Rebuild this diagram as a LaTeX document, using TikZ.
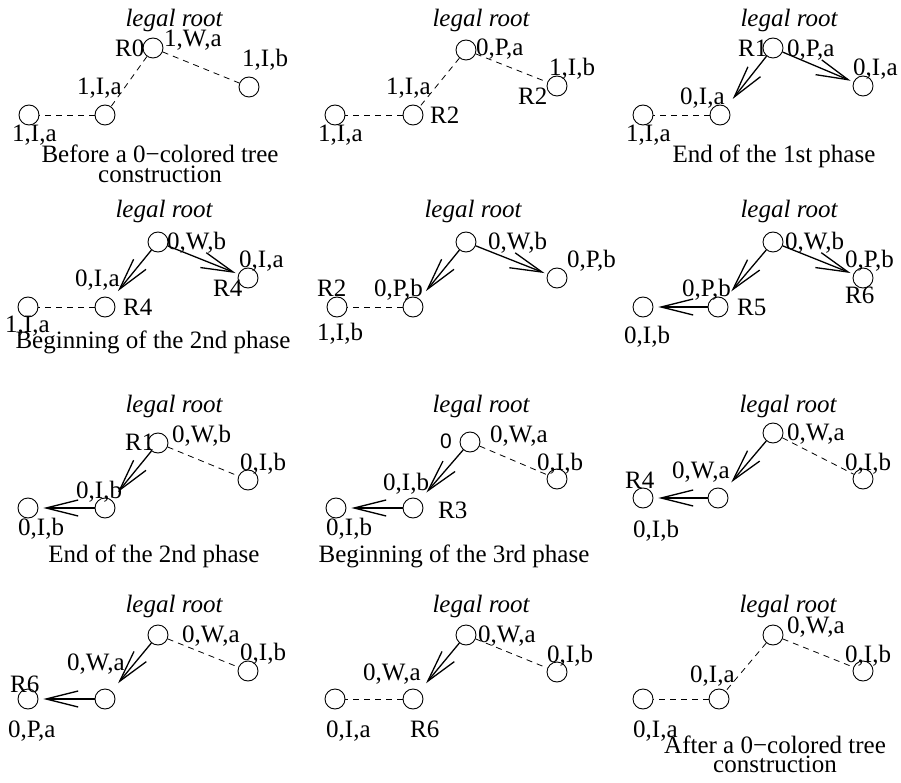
\documentclass[tikz,border=0pt]{standalone}
\usepackage{fontspec}
\setmainfont{Liberation Serif}
\newfontfamily\sfz{Liberation Sans}
\usetikzlibrary{arrows.meta}
\tikzset{
 vtx/.style={circle, draw, minimum size=20pt, inner sep=0pt, line width=0.9pt},
 lbl/.style={anchor=base west, inner sep=0pt},
 captxt/.style={anchor=base, inner sep=0pt},
 lr/.style={anchor=base, inner sep=0pt, font=\fontsize{25}{27}\selectfont\itshape},
 dsh/.style={dash pattern=on 6pt off 5pt, line width=0.8pt},
 arr/.style={line width=1.3pt, -{Straight Barb[length=32pt, width=16pt, line width=1.3pt]}},
 toM/.style={arr, shorten >=10pt},
 toS/.style={arr, shorten >=3pt},
 toL/.style={arr, shorten >=5pt},
}
\begin{document}
\begin{tikzpicture}[x=1pt, y=-1pt, every node/.append style={font=\fontsize{25}{27}\selectfont}]
\useasboundingbox (0,0) rectangle (901,783);
% ---- panel 1
\node[vtx] (aR) at (153,48) {};
\node[vtx] (aS) at (249,87) {};
\node[vtx] (aM) at (105,115) {};
\node[vtx] (aL) at (29,115) {};
\node[lr] (aT) at (174,27) {legal root};
\node[lbl] (a1) at (115,57) {R0};
\node[lbl] (a2) at (164,47) {1,W,a};
\node[lbl] (a3) at (242,67) {1,I,b};
\node[lbl] (a4) at (77,95) {1,I,a};
\node[lbl] (a5) at (12,142) {1,I,a};
\node[captxt] (a6) at (160,163) {Before a 0−colored tree};
\node[captxt] (a7) at (160,183) {construction};
\draw[dsh] (aR) -- (aM);
\draw[dsh] (aR) -- (aS);
\draw[dsh] (aM) -- (aL);
% ---- panel 2
\node[vtx] (bR) at (466,50) {};
\node[vtx] (bS) at (557,86) {};
\node[vtx] (bM) at (413,115) {};
\node[vtx] (bL) at (335,115) {};
\node[lr] (bT) at (481,27) {legal root};
\node[lbl] (b1) at (476,56) {0,P,a};
\node[lbl] (b2) at (549,76) {1,I,b};
\node[lbl] (b3) at (518,105) {R2};
\node[lbl] (b4) at (386,95) {1,I,a};
\node[lbl] (b5) at (430,124) {R2};
\node[lbl] (b6) at (318,142) {1,I,a};
\draw[dsh] (bR) -- (bM);
\draw[dsh] (bR) -- (bS);
\draw[dsh] (bM) -- (bL);
% ---- panel 3
\node[vtx] (cR) at (773,48) {};
\node[vtx] (cS) at (863,86) {};
\node[vtx] (cM) at (720,115) {};
\node[vtx] (cL) at (643,115) {};
\node[lr] (cT) at (789,27) {legal root};
\node[lbl] (c1) at (738,57) {R1};
\node[lbl] (c2) at (787,57) {0,P,a};
\node[lbl] (c3) at (853,76) {0,I,a};
\node[lbl] (c4) at (680,105) {0,I,a};
\node[lbl] (c5) at (626,142) {1,I,a};
\node[captxt] (c6) at (774,163) {End of the 1st phase};
\draw[toM] (cR) -- (cM);
\draw[toS] (cR) -- (cS);
\draw[dsh] (cM) -- (cL);
% ---- panel 4
\node[vtx] (dR) at (158,242) {};
\node[vtx] (dS) at (248,278) {};
\node[vtx] (dM) at (105,307) {};
\node[vtx] (dL) at (28,307) {};
\node[lr] (dT) at (164,218) {legal root};
\node[lbl] (d1) at (167,250) {0,W,b};
\node[lbl] (d2) at (239,268) {0,I,a};
\node[lbl] (d3) at (213,296) {R4};
\node[lbl] (d4) at (75,287) {0,I,a};
\node[lbl] (d5) at (123,315) {R4};
\node[lbl] (d6) at (5,332) {1,I,a};
\node[captxt] (d7) at (153,348) {Beginning of the 2nd phase};
\draw[toM] (dR) -- (dM);
\draw[toS] (dR) -- (dS);
\draw[dsh] (dM) -- (dL);
% ---- panel 5
\node[vtx] (eR) at (466,242) {};
\node[vtx] (eS) at (557,278) {};
\node[vtx] (eM) at (413,307) {};
\node[vtx] (eL) at (337,307) {};
\node[lr] (eT) at (473,218) {legal root};
\node[lbl] (e1) at (488,250) {0,W,b};
\node[lbl] (e2) at (567,268) {0,P,b};
\node[lbl] (e3) at (374,297) {0,P,b};
\node[lbl] (e4) at (317,296) {R2};
\node[lbl] (e5) at (317,340) {1,I,b};
\draw[toM] (eR) -- (eM);
\draw[toS] (eR) -- (eS);
\draw[dsh] (eM) -- (eL);
% ---- panel 6
\node[vtx] (fR) at (773,242) {};
\node[vtx] (fS) at (863,278) {};
\node[vtx] (fM) at (718,307) {};
\node[vtx] (fL) at (643,307) {};
\node[lr] (fT) at (789,218) {legal root};
\node[lbl] (f1) at (785,250) {0,W,b};
\node[lbl] (f2) at (845,268) {0,P,b};
\node[lbl] (f3) at (845,303) {R6};
\node[lbl] (f4) at (682,297) {0,P,b};
\node[lbl] (f5) at (737,315) {R5};
\node[lbl] (f6) at (624,343) {0,I,b};
\draw[toM] (fR) -- (fM);
\draw[toS] (fR) -- (fS);
\draw[toL] (fM) -- (fL);
% ---- panel 7
\node[vtx] (gR) at (158,443) {};
\node[vtx] (gS) at (248,480) {};
\node[vtx] (gM) at (105,508) {};
\node[vtx] (gL) at (28,508) {};
\node[lr] (gT) at (174,412) {legal root};
\node[lbl] (g1) at (125,450) {R1};
\node[lbl] (g2) at (172,442) {0,W,b};
\node[lbl] (g3) at (240,470) {0,I,b};
\node[lbl] (g4) at (76,498) {0,I,b};
\node[lbl] (g5) at (18,535) {0,I,b};
\node[captxt] (g6) at (154,562) {End of the 2nd phase};
\draw[toM] (gR) -- (gM);
\draw[toL] (gM) -- (gL);
\draw[dsh] (gR) -- (gS);
% ---- panel 8
\node[vtx] (hR) at (470,442) {};
\node[vtx] (hS) at (557,479) {};
\node[vtx] (hM) at (413,508) {};
\node[vtx] (hL) at (336,508) {};
\node[lr] (hT) at (481,412) {legal root};
\node[lbl, font=\fontsize{21}{23}\selectfont\sfz] (h1) at (440,448) {0};
\node[lbl] (h2) at (490,442) {0,W,a};
\node[lbl] (h3) at (537,470) {0,I,b};
\node[lbl] (h4) at (383,490) {0,I,b};
\node[lbl] (h5) at (438,518) {R3};
\node[lbl] (h6) at (326,535) {0,I,b};
\node[captxt] (h7) at (454,562) {Beginning of the 3rd phase};
\draw[toM] (hR) -- (hM);
\draw[toL] (hM) -- (hL);
\draw[dsh] (hR) -- (hS);
% ---- panel 9
\node[vtx] (iR) at (773,433) {};
\node[vtx] (iS) at (863,479) {};
\node[vtx] (iM) at (718,498) {};
\node[vtx] (iL) at (643,498) {};
\node[lr] (iT) at (788,412) {legal root};
\node[lbl] (i1) at (787,440) {0,W,a};
\node[lbl] (i2) at (845,470) {0,I,b};
\node[lbl] (i3) at (672,478) {0,W,a};
\node[lbl] (i4) at (625,488) {R4};
\node[lbl] (i5) at (633,537) {0,I,b};
\draw[toM] (iR) -- (iM);
\draw[toL] (iM) -- (iL);
\draw[dsh] (iR) -- (iS);
% ---- panel 10
\node[vtx] (jR) at (158,635) {};
\node[vtx] (jS) at (248,671) {};
\node[vtx] (jM) at (105,699) {};
\node[vtx] (jL) at (28,699) {};
\node[lr] (jT) at (174,612) {legal root};
\node[lbl] (j1) at (182,642) {0,W,a};
\node[lbl] (j2) at (240,660) {0,I,b};
\node[lbl] (j3) at (67,670) {0,W,a};
\node[lbl] (j4) at (10,692) {R6};
\node[lbl] (j5) at (8,737) {0,P,a};
\draw[toM] (jR) -- (jM);
\draw[toL] (jM) -- (jL);
\draw[dsh] (jR) -- (jS);
% ---- panel 11
\node[vtx] (kR) at (466,635) {};
\node[vtx] (kS) at (557,672) {};
\node[vtx] (kM) at (413,699) {};
\node[vtx] (kL) at (335,699) {};
\node[lr] (kT) at (481,612) {legal root};
\node[lbl] (k1) at (478,642) {0,W,a};
\node[lbl] (k2) at (547,662) {0,I,b};
\node[lbl] (k3) at (363,680) {0,W,a};
\node[lbl] (k4) at (326,737) {0,I,a};
\node[lbl] (k5) at (410,737) {R6};
\draw[toM] (kR) -- (kM);
\draw[dsh] (kR) -- (kS);
\draw[dsh] (kM) -- (kL);
% ---- panel 12
\node[vtx] (lR) at (773,635) {};
\node[vtx] (lS) at (863,671) {};
\node[vtx] (lM) at (719,699) {};
\node[vtx] (lL) at (643,699) {};
\node[lr] (lT) at (788,612) {legal root};
\node[lbl] (l1) at (787,633) {0,W,a};
\node[lbl] (l2) at (845,662) {0,I,b};
\node[lbl] (l3) at (690,682) {0,I,a};
\node[lbl] (l4) at (633,737) {0,I,a};
\node[captxt] (l5) at (775,753) {After a 0−colored tree};
\node[captxt] (l6) at (775,772) {construction};
\draw[dsh] (lR) -- (lM);
\draw[dsh] (lR) -- (lS);
\draw[dsh] (lM) -- (lL);
\end{tikzpicture}
\end{document}
